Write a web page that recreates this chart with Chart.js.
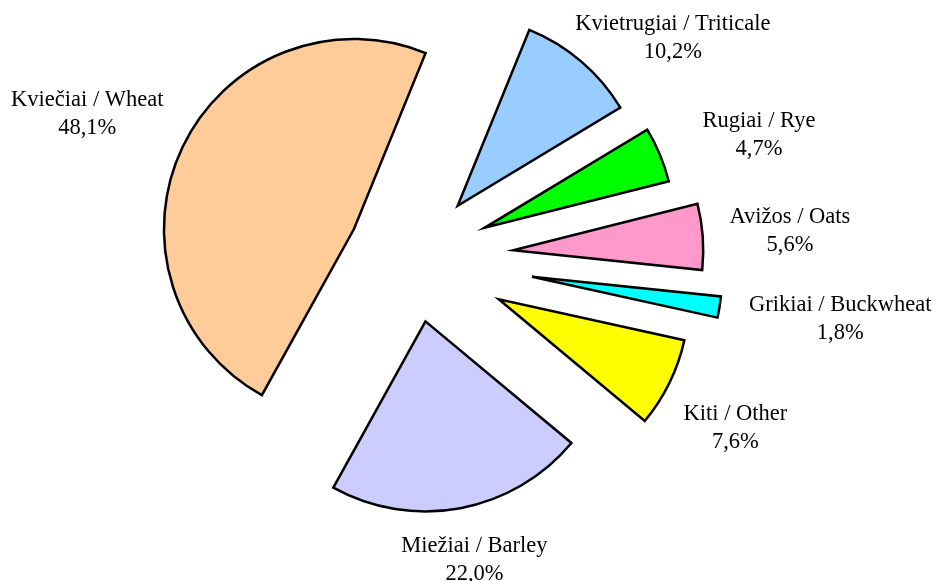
<!DOCTYPE html>
<html>
<head>
<meta charset="utf-8">
<script src="https://cdn.jsdelivr.net/npm/chart.js@4.4.1/dist/chart.umd.min.js"></script>
<style>
  html, body { margin: 0; padding: 0; background: #fff; }
  #wrap { width: 934px; height: 581px; }
</style>
</head>
<body>
<div id="wrap"><canvas id="grainChart" width="934" height="581"></canvas></div>
<script>
// Grain crop structure (share of area, %)
const categories = ['Kviečiai / Wheat', 'Kvietrugiai / Triticale', 'Rugiai / Rye', 'Avižos / Oats',
  'Grikiai / Buckwheat', 'Kiti / Other', 'Miežiai / Barley'];
const shares = [48.1, 10.2, 4.7, 5.6, 1.8, 7.6, 22.0];

const sliceColors = ['#FFCC99', '#99CCFF', '#00FF00', '#FF99CC', '#00FFFF', '#FFFF00', '#CCCCFF'];
const explodeDist = [66, 68, 77, 100, 120, 95, 65];
// small hand nudges for the data labels (px), like dragged labels in Excel
const labelNudge = [[-4, -10], [12, 17], [24, 1], [2, -2], [6, 4], [-3, 22], [-4, 0]];

const labelFont = '22.5px "Liberation Serif", "Times New Roman", serif';
const lineH = 28;
const labelGap = 25;

const fmt = v => v.toFixed(1).replace('.', ',') + '%';

// push each arc out along its mid angle (Excel-style explosion)
const explodePlugin = {
  id: 'explode',
  afterUpdate(chart) {
    const meta = chart.getDatasetMeta(0);
    meta.data.forEach((arc, i) => {
      const mid = (arc.startAngle + arc.endAngle) / 2;
      arc.x += Math.cos(mid) * explodeDist[i];
      arc.y += Math.sin(mid) * explodeDist[i];
    });
  }
};

const labelPlugin = {
  id: 'sliceLabels',
  afterDraw(chart) {
    const ctx = chart.ctx;
    const meta = chart.getDatasetMeta(0);
    ctx.save();
    ctx.font = labelFont;
    ctx.fillStyle = '#000';
    ctx.textAlign = 'center';
    ctx.textBaseline = 'middle';
    meta.data.forEach((arc, i) => {
      const mid = (arc.startAngle + arc.endAngle) / 2;
      const ux = Math.cos(mid), uy = Math.sin(mid);
      const lines = [categories[i], fmt(shares[i])];
      const w = Math.max(...lines.map(t => ctx.measureText(t).width));
      const h = lineH * lines.length;
      const r = arc.outerRadius + labelGap;
      const cx = arc.x + ux * r + ux * w / 2 + labelNudge[i][0];
      const cy = arc.y + uy * r + uy * h / 2 + labelNudge[i][1];
      lines.forEach((t, k) => {
        ctx.fillText(t, cx, cy - h / 2 + lineH * (k + 0.5));
      });
    });
    ctx.restore();
  }
};

new Chart(document.getElementById('grainChart'), {
  type: 'pie',
  data: {
    labels: categories,
    datasets: [{
      data: shares,
      backgroundColor: sliceColors,
      borderColor: '#000',
      borderWidth: 2.5,
      borderJoinStyle: 'miter'
    }]
  },
  options: {
    responsive: false,
    animation: false,
    events: [],
    rotation: -151,
    radius: 190,
    layout: { padding: { left: 0, right: 107, top: 0, bottom: 66 } },
    plugins: {
      legend: { display: false },
      tooltip: { enabled: false }
    }
  },
  plugins: [explodePlugin, labelPlugin]
});
</script>
</body>
</html>
